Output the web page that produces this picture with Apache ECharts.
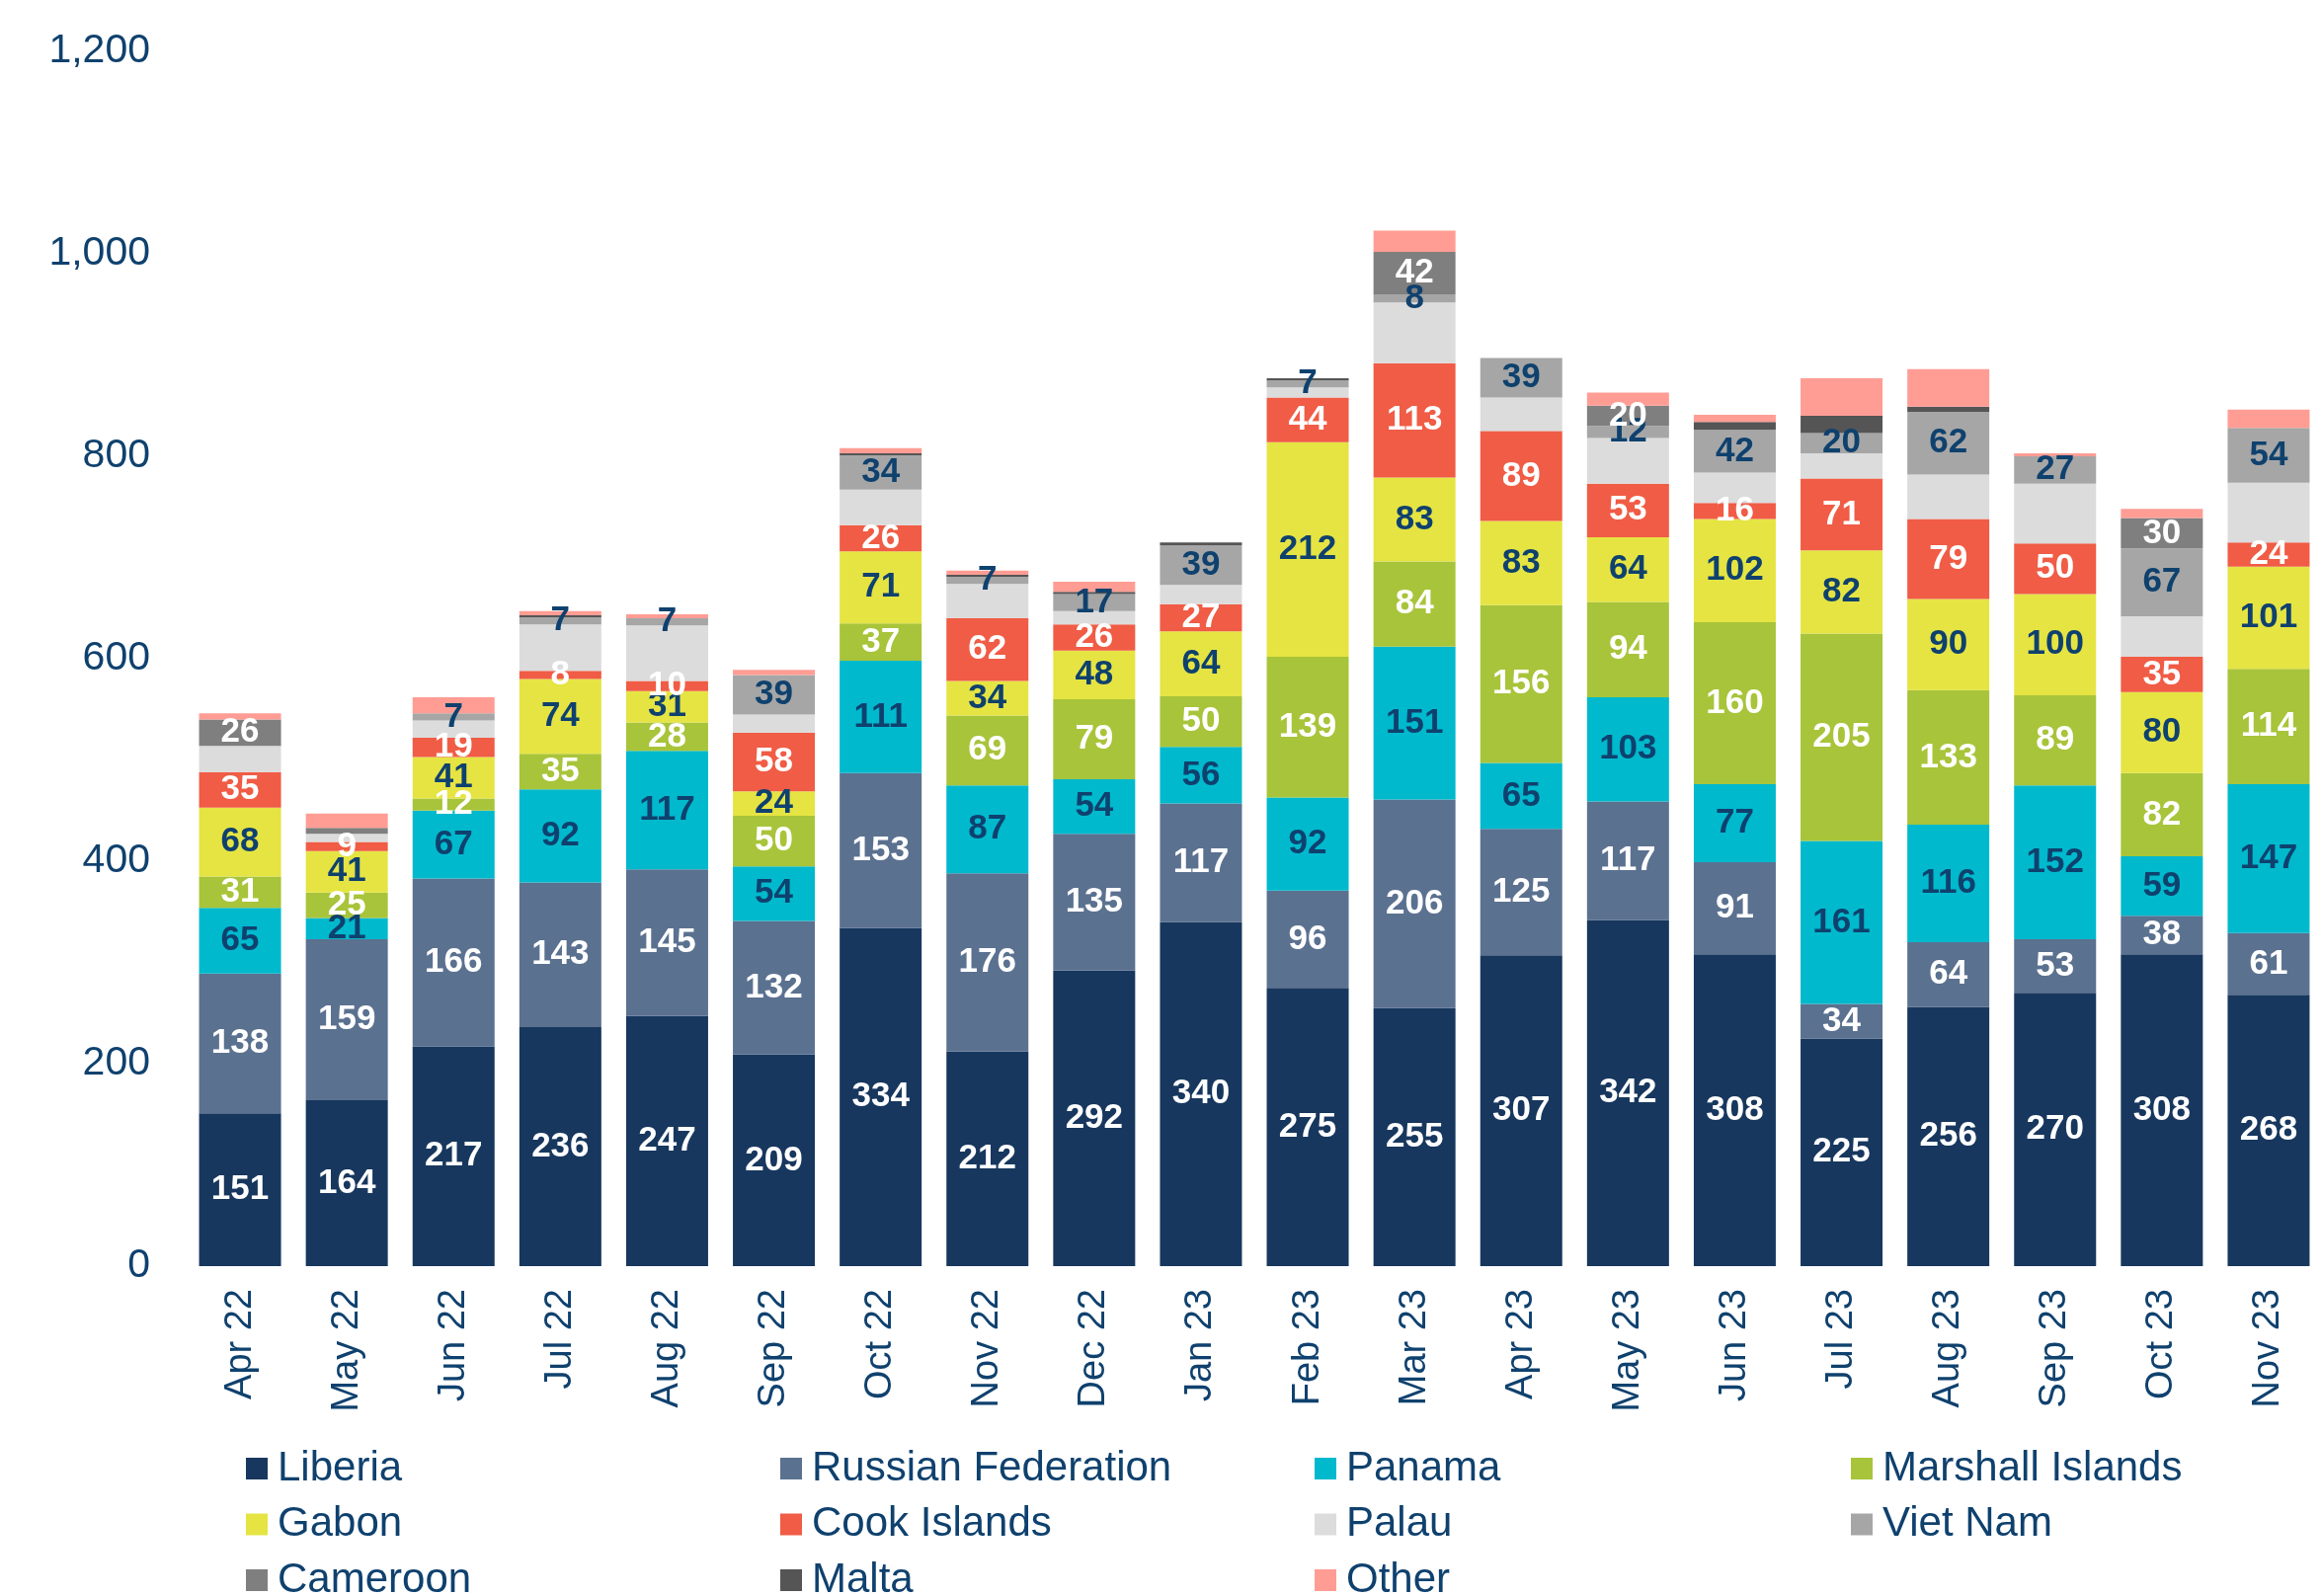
<!DOCTYPE html>
<html>
<head>
<meta charset="utf-8">
<script src="https://cdn.jsdelivr.net/npm/echarts@6/dist/echarts.min.js"></script>
<style>
  html, body { margin: 0; padding: 0; background: #fff; }
  #chart { width: 2351px; height: 1616px; }
</style>
</head>
<body>
<div id="chart"></div>
<script>
const months = ["Apr 22", "May 22", "Jun 22", "Jul 22", "Aug 22", "Sep 22", "Oct 22", "Nov 22", "Dec 22", "Jan 23",
  "Feb 23", "Mar 23", "Apr 23", "May 23", "Jun 23", "Jul 23", "Aug 23", "Sep 23", "Oct 23", "Nov 23"];

const liberia  = [151, 164, 217, 236, 247, 209, 334, 212, 292, 340, 275, 255, 307, 342, 308, 225, 256, 270, 308, 268];
const russia   = [138, 159, 166, 143, 145, 132, 153, 176, 135, 117, 96, 206, 125, 117, 91, 34, 64, 53, 38, 61];
const panama   = [65, 21, 67, 92, 117, 54, 111, 87, 54, 56, 92, 151, 65, 103, 77, 161, 116, 152, 59, 147];
const marshall = [31, 25, 12, 35, 28, 50, 37, 69, 79, 50, 139, 84, 156, 94, 160, 205, 133, 89, 82, 114];
const gabon    = [68, 41, 41, 74, 31, 24, 71, 34, 48, 64, 212, 83, 83, 64, 102, 82, 90, 100, 80, 101];
const cook     = [35, 9, 19, 8, 10, 58, 26, 62, 26, 27, 44, 113, 89, 53, 16, 71, 79, 50, 35, 24];
const palau    = [26, 8, 17, 46, 55, 18, 35, 34, 13, 19, 10, 60, 33, 45, 30, 25, 44, 59, 40, 59];
const vietnam  = [0, 0, 7, 7, 7, 39, 34, 7, 17, 39, 7, 8, 39, 12, 42, 20, 62, 27, 67, 54];
const cameroon = [26, 6, 0, 0, 0, 0, 0, 0, 0, 0, 0, 42, 0, 20, 0, 0, 0, 0, 30, 0];
const malta    = [0, 0, 0, 2, 0, 0, 2, 2, 2, 3, 2, 0, 0, 0, 8, 17, 5, 0, 0, 0];
const other    = [6, 14, 16, 4, 4, 5, 5, 4, 10, 0, 0, 21, 0, 13, 7, 37, 37, 3, 9, 18];

const yTicks = [0, 200, 400, 600, 800, 1000, 1200];

const NAVY = "#0f416e";
const FONT = "'Liberation Sans', Arial, sans-serif";

// name, values, fill, label colour (null = no labels)
const SERIES = [
  ["Liberia", liberia, "#17375e", "#ffffff"],
  ["Russian Federation", russia, "#5b7190", "#ffffff"],
  ["Panama", panama, "#00b9cd", NAVY],
  ["Marshall Islands", marshall, "#a8c43a", "#ffffff"],
  ["Gabon", gabon, "#e5e443", NAVY],
  ["Cook Islands", cook, "#f05c45", "#ffffff"],
  ["Palau", palau, "#dcdcdc", null],
  ["Viet Nam", vietnam, "#a6a6a6", NAVY],
  ["Cameroon", cameroon, "#7f7f7f", "#ffffff"],
  ["Malta", malta, "#555555", null],
  ["Other", other, "#ff9d94", null]
];

const series = SERIES.map(([name, values, color, labelColor]) => ({
  name,
  type: "bar",
  stack: "total",
  barWidth: 83,
  data: values,
  itemStyle: { color },
  emphasis: { disabled: true },
  label: {
    show: !!labelColor,
    position: "inside",
    color: labelColor || "#fff",
    fontFamily: FONT,
    fontWeight: "bold",
    fontSize: 35,
    formatter: p => (p.value >= 7 ? String(p.value) : "")
  }
}));

// legend is laid out as four columns of up to three rows
const legendCols = [
  [249, ["Liberia", "Gabon", "Cameroon"]],
  [790, ["Russian Federation", "Cook Islands", "Malta"]],
  [1331, ["Panama", "Palau", "Other"]],
  [1874, ["Marshall Islands", "Viet Nam"]]
];

const legends = legendCols.map(([left, names]) => ({
  orient: "vertical",
  left,
  top: 1466,
  height: 200,
  padding: 0,
  icon: "rect",
  itemWidth: 22,
  itemHeight: 22,
  itemGap: 14.5,
  selectedMode: false,
  data: names,
  textStyle: {
    fontFamily: FONT,
    fontSize: 42,
    color: NAVY,
    padding: [0, 0, 0, 5]
  }
}));

const chart = echarts.init(document.getElementById("chart"));
chart.setOption({
  animation: false,
  backgroundColor: "#ffffff",
  grid: { left: 189, right: 0, top: 52, bottom: 334 },
  legend: legends,
  xAxis: {
    type: "category",
    data: months,
    axisLine: { show: false },
    axisTick: { show: false },
    axisLabel: {
      rotate: 90,
      margin: 23,
      interval: 0,
      fontFamily: FONT,
      fontSize: 38,
      color: NAVY
    }
  },
  yAxis: {
    type: "value",
    min: yTicks[0],
    max: yTicks[yTicks.length - 1],
    interval: 200,
    splitLine: { show: false },
    axisLine: { show: false },
    axisTick: { show: false },
    axisLabel: {
      margin: 37,
      fontFamily: FONT,
      fontSize: 41,
      color: NAVY,
      formatter: v => v.toLocaleString("en-US")
    }
  },
  series
});
</script>
</body>
</html>
